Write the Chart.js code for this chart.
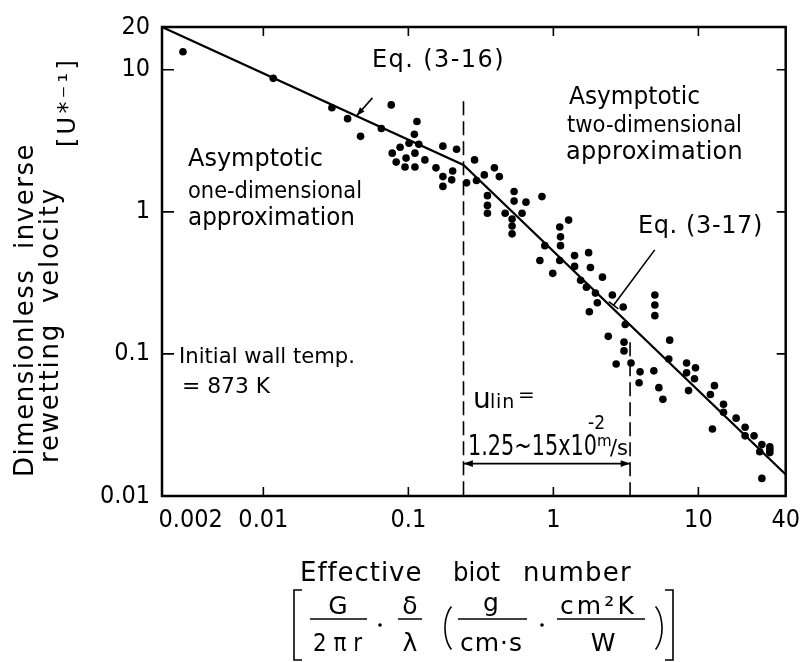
<!DOCTYPE html>
<html>
<head>
<meta charset="utf-8">
<script src="https://cdn.jsdelivr.net/npm/chart.js@4.4.0/dist/chart.umd.min.js"></script>
<style>
  html, body { margin: 0; padding: 0; background: #fff; }
</style>
</head>
<body>
<canvas id="rewet" width="809" height="662"></canvas>
<script>
"use strict";

const FONT = "'DejaVu Sans', sans-serif";
const DIGITS = "'Liberation Sans Narrow', 'DejaVu Sans Condensed', 'DejaVu Sans', sans-serif";

// measured points: effective biot number vs dimensionless inverse rewetting velocity
const biotValues = [
  0.00279, 0.0117, 0.0297, 0.0381, 0.0468, 0.0651, 0.0762, 0.1146, 0.11, 0.101,
  0.118, 0.0877, 0.0774, 0.0964, 0.111, 0.0824, 0.0948, 0.111, 0.130, 0.173,
  0.155, 0.173, 0.202, 0.173, 0.199, 0.215, 0.252, 0.286, 0.334, 0.392,
  0.424, 0.295, 0.351, 0.351, 0.351, 0.536, 0.536, 0.647, 0.834, 0.465,
  0.608, 0.519, 0.519, 0.519, 1.106, 1.274, 1.12, 1.12, 0.873, 0.807,
  0.99, 1.106, 1.40, 1.40, 1.75, 1.80, 1.54, 1.69, 2.18, 1.95,
  2.01, 1.77, 2.55, 3.03, 3.13, 2.39, 3.07, 3.07, 5.01, 5.01,
  5.01, 6.34, 6.25, 2.71, 3.43, 3.96, 3.90, 4.93, 5.34, 5.69,
  8.29, 8.29, 9.55, 9.40, 8.55, 12.1, 12.9, 14.9, 14.9, 12.5,
  18.2, 21.0, 24.2, 21.0, 27.4, 31.1, 31.1, 27.4, 31.1, 26.5
];
const inverseVelocity = [
  13.4, 8.7, 5.4, 4.53, 3.40, 3.86, 5.66, 4.32, 3.51, 3.04,
  2.99, 2.85, 2.59, 2.39, 2.59, 2.24, 2.07, 2.07, 2.32, 2.90,
  2.04, 1.77, 1.94, 1.51, 1.68, 2.76, 1.60, 2.32, 1.82, 2.04,
  1.77, 1.66, 1.30, 1.11, 0.977, 1.39, 1.19, 1.17, 1.28, 0.977,
  0.977, 0.889, 0.795, 0.700, 0.782, 0.875, 0.667, 0.578, 0.578, 0.454,
  0.369, 0.454, 0.492, 0.413, 0.516, 0.406, 0.330, 0.295, 0.347, 0.268,
  0.229, 0.198, 0.260, 0.214, 0.161, 0.133, 0.121, 0.105, 0.260, 0.221,
  0.186, 0.125, 0.092, 0.0849, 0.0863, 0.0748, 0.0627, 0.0760, 0.0579, 0.0479,
  0.0863, 0.0736, 0.0798, 0.0668, 0.0552, 0.0518, 0.0598, 0.0442, 0.0388, 0.0296,
  0.0353, 0.0305, 0.0265, 0.0265, 0.0230, 0.0222, 0.0202, 0.0133, 0.0212, 0.0205
];

// Eq.(3-16) up to the knee, Eq.(3-17) after it
const fitBiot = [0.002, 0.24, 40];
const fitVelocity = [20, 2.14, 0.0142];

const xTickValues = [0.002, 0.01, 0.1, 1, 10, 40];
const xTickLabels = ["\u2007\u2007\u2007\u20070.002", "0.01", "0.1", "1", "10", "40"];
const yTickValues = [0.01, 0.1, 1, 10, 20];
const yTickLabels = ["0.01", "0.1", "1", "10", "20"];

// u_lin range marked by the dashed lines
const linRangeBiot = [0.24, 3.38];
const linRangeTop = [6.0, 0.121];
const linArrowLevel = 0.0169;

// leaders from the equation labels to the curve
const leader16 = [[0.0565, 6.34], [0.044, 4.75]];
const leader17 = [[5.0, 0.54], [2.6, 0.22]];

const points = biotValues.map((b, i) => ({ x: b, y: inverseVelocity[i] }));
const fitPoints = fitBiot.map((b, i) => ({ x: b, y: fitVelocity[i] }));

function font(size, family) {
  return size + "px " + (family || FONT);
}

// draw left-aligned text squeezed or spread to a given width
function fitText(ctx, text, x, y, width) {
  const w = ctx.measureText(text).width;
  if (w < width) {
    ctx.letterSpacing = ((width - w) / text.length).toFixed(2) + "px";
    ctx.fillText(text, x, y);
    ctx.letterSpacing = "0px";
  } else {
    ctx.fillText(text, x, y, width);
  }
}

function arrowHead(ctx, x, y, angle, len) {
  ctx.beginPath();
  ctx.moveTo(x, y);
  ctx.lineTo(x - len * Math.cos(angle - 0.35), y - len * Math.sin(angle - 0.35));
  ctx.lineTo(x - len * Math.cos(angle + 0.35), y - len * Math.sin(angle + 0.35));
  ctx.closePath();
  ctx.fill();
}

// labels inside the plot: text, left x, baseline, font size, width
const plotLabels = [
  ["Eq. (3-16)", 372, 67, 24, 133],
  ["Eq. (3-17)", 638, 233, 24, 125],
  ["Asymptotic", 569, 104, 24, 131],
  ["two-dimensional", 567, 132, 23, 175],
  ["approximation", 566, 159, 24, 177],
  ["Asymptotic", 188, 166, 24, 135],
  ["one-dimensional", 188, 198, 23, 174],
  ["approximation", 188, 225, 24, 167]
];

const annotate = {
  id: "annotate",
  afterDraw(chart) {
    const ctx = chart.ctx;
    const a = chart.chartArea;
    const xs = chart.scales.x;
    const ys = chart.scales.y;
    const px = v => xs.getPixelForValue(v);
    const py = v => ys.getPixelForValue(v);

    ctx.save();
    ctx.strokeStyle = "#000";
    ctx.fillStyle = "#000";

    // frame and inward ticks on all four sides
    ctx.lineWidth = 2.5;
    ctx.strokeRect(a.left, a.top, a.right - a.left, a.bottom - a.top);
    ctx.lineWidth = 1.6;
    ctx.beginPath();
    xTickValues.slice(1, -1).forEach(v => {
      ctx.moveTo(px(v), a.bottom); ctx.lineTo(px(v), a.bottom - 9);
      ctx.moveTo(px(v), a.top); ctx.lineTo(px(v), a.top + 9);
    });
    yTickValues.slice(1, -1).forEach(v => {
      ctx.moveTo(a.left, py(v)); ctx.lineTo(a.left + 12, py(v));
      ctx.moveTo(a.right, py(v)); ctx.lineTo(a.right - 9, py(v));
    });
    ctx.stroke();

    // dashed lines bounding the u_lin range
    ctx.setLineDash([14, 6]);
    ctx.lineWidth = 1.6;
    ctx.beginPath();
    linRangeBiot.forEach((b, i) => {
      ctx.moveTo(px(b), py(linRangeTop[i]));
      ctx.lineTo(px(b), a.bottom);
    });
    ctx.stroke();
    ctx.setLineDash([]);

    const ay = py(linArrowLevel);
    const ax0 = px(linRangeBiot[0]);
    const ax1 = px(linRangeBiot[1]);
    ctx.beginPath();
    ctx.moveTo(ax0, ay); ctx.lineTo(ax1, ay);
    ctx.stroke();
    arrowHead(ctx, ax0, ay, Math.PI, 10);
    arrowHead(ctx, ax1, ay, 0, 10);

    // leaders
    [leader16, leader17].forEach((l, i) => {
      const x0 = px(l[0][0]), y0 = py(l[0][1]);
      const x1 = px(l[1][0]), y1 = py(l[1][1]);
      const ang = Math.atan2(y1 - y0, x1 - x0);
      ctx.beginPath();
      ctx.moveTo(x0, y0); ctx.lineTo(x1, y1);
      ctx.stroke();
      if (i === 0) {
        arrowHead(ctx, x1, y1, ang, 9);
      } else {
        ctx.beginPath();
        ctx.moveTo(x1 - 6 * Math.sin(ang), y1 + 6 * Math.cos(ang));
        ctx.lineTo(x1 + 6 * Math.sin(ang), y1 - 6 * Math.cos(ang));
        ctx.stroke();
      }
    });

    // in-plot text
    ctx.textAlign = "left";
    ctx.textBaseline = "alphabetic";
    plotLabels.forEach(l => {
      ctx.font = font(l[3]);
      fitText(ctx, l[0], l[1], l[2], l[4]);
    });
    ctx.font = font(22);
    fitText(ctx, "Initial wall temp.", 179, py(0.1) + 9, 176);
    fitText(ctx, "= 873 K", 182, py(0.1) + 39, 88);

    // u_lin label
    ctx.font = font(28);
    ctx.fillText("u", 473, 408);
    ctx.font = font(19);
    fitText(ctx, "lin", 490, 408, 25);
    ctx.font = font(20);
    ctx.fillText("=", 518, 401);
    ctx.font = font(29, DIGITS);
    fitText(ctx, "1.25~15x10", 468, 455, 129);
    ctx.font = font(19, DIGITS);
    ctx.fillText("-2", 588, 429);
    ctx.font = font(15);
    ctx.fillText("m", 597, 446);
    ctx.font = font(21);
    ctx.fillText("/s", 610, 455);

    // y axis title, two rotated columns
    ctx.save();
    ctx.translate(33, 477);
    ctx.rotate(-Math.PI / 2);
    ctx.font = font(26);
    fitText(ctx, "Dimensionless  inverse", 0, 0, 334);
    ctx.restore();
    ctx.save();
    ctx.translate(58, 463);
    ctx.rotate(-Math.PI / 2);
    ctx.font = font(26);
    fitText(ctx, "rewetting  velocity", 0, 0, 276);
    ctx.restore();
    ctx.save();
    ctx.translate(75, 147);
    ctx.rotate(-Math.PI / 2);
    ctx.font = font(24);
    fitText(ctx, "[U*\u207B\u00B9]", 0, 0, 90);
    ctx.restore();

    // x axis title
    ctx.font = font(26);
    fitText(ctx, "Effective", 300, 581, 122);
    fitText(ctx, "biot", 453, 581, 47);
    fitText(ctx, "number", 523, 581, 109);

    // unit of the biot number
    const bar = 619;
    ctx.lineWidth = 1.6;
    ctx.beginPath();
    [[310, 367], [398, 422], [458, 527], [557, 645]].forEach(b => {
      ctx.moveTo(b[0], bar); ctx.lineTo(b[1], bar);
    });
    // brackets
    ctx.moveTo(302, 590); ctx.lineTo(294, 590); ctx.lineTo(294, 660); ctx.lineTo(302, 660);
    ctx.moveTo(665, 590); ctx.lineTo(673, 590); ctx.lineTo(673, 660); ctx.lineTo(665, 660);
    ctx.stroke();
    ctx.beginPath();
    ctx.ellipse(459, 628, 14, 25.5, 0, Math.PI - 1.0, Math.PI + 1.0);
    ctx.stroke();
    ctx.beginPath();
    ctx.ellipse(648, 628, 14, 25.5, 0, -1.0, 1.0);
    ctx.stroke();
    [380, 542].forEach(dx => {
      ctx.beginPath();
      ctx.arc(dx, 625, 1.8, 0, 2 * Math.PI);
      ctx.fill();
    });

    ctx.font = font(25);
    ctx.textAlign = "center";
    ctx.fillText("G", 338, 614);
    ctx.fillText("\u03B4", 410, 614);
    ctx.fillText("\u03BB", 410, 651);
    ctx.fillText("g", 491, 611);
    ctx.fillText("W", 603, 651);
    ctx.textAlign = "left";
    fitText(ctx, "2 \u03C0 r", 313, 651, 49);
    fitText(ctx, "cm\u00B7s", 460, 651, 63);
    fitText(ctx, "cm\u00B2K", 560, 614, 77);

    ctx.restore();
  }
};

const tickFont = { family: DIGITS, size: 25 };

new Chart(document.getElementById("rewet").getContext("2d"), {
  type: "scatter",
  data: {
    datasets: [
      {
        label: "Measured",
        data: points,
        pointRadius: 3.8,
        pointBackgroundColor: "#000",
        pointBorderWidth: 0,
        order: 1
      },
      {
        label: "Eq. (3-16) / Eq. (3-17)",
        type: "line",
        data: fitPoints,
        borderColor: "#000",
        borderWidth: 2.2,
        pointRadius: 0,
        tension: 0,
        fill: false,
        order: 2
      }
    ]
  },
  options: {
    responsive: false,
    animation: false,
    layout: { padding: { left: 0, right: 22, top: 20, bottom: 0 } },
    plugins: { legend: { display: false }, tooltip: { enabled: false } },
    scales: {
      x: {
        type: "logarithmic",
        min: 0.002,
        max: 40,
        grid: { display: false, drawTicks: false },
        border: { display: false },
        afterBuildTicks: s => { s.ticks = xTickValues.map(v => ({ value: v })); },
        afterFit: s => { s.height = 166; },
        ticks: {
          autoSkip: false,
          maxRotation: 0,
          padding: 9,
          color: "#000",
          font: tickFont,
          callback: (v, i) => xTickLabels[i]
        }
      },
      y: {
        type: "logarithmic",
        min: 0.01,
        max: 20,
        grid: { display: false, drawTicks: false },
        border: { display: false },
        afterBuildTicks: s => { s.ticks = yTickValues.map(v => ({ value: v })); },
        afterFit: s => { s.width = 162; },
        ticks: {
          autoSkip: false,
          padding: 12,
          color: "#000",
          font: tickFont,
          callback: (v, i) => yTickLabels[i]
        }
      }
    }
  },
  plugins: [annotate]
});
</script>
</body>
</html>
